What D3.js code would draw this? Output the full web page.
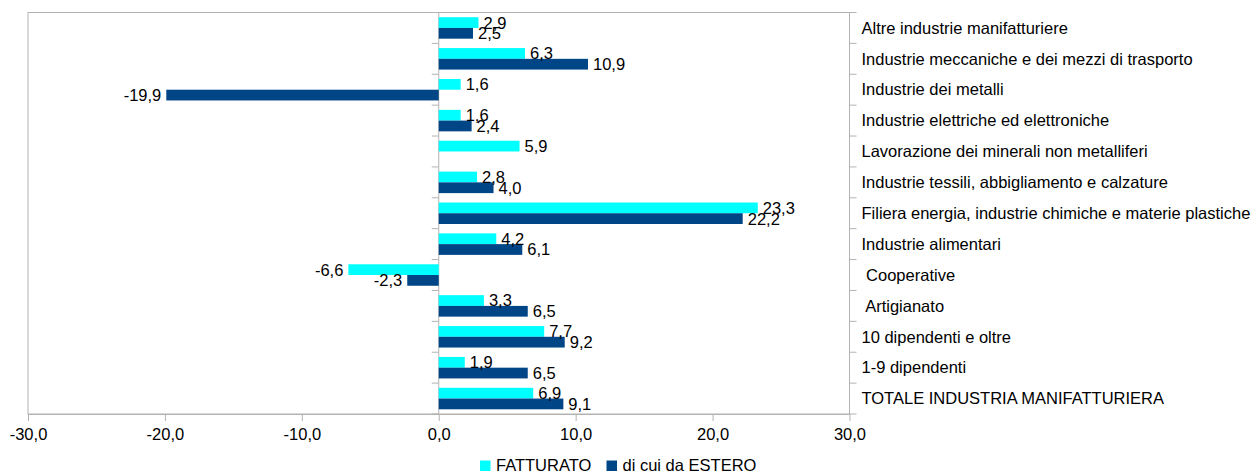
<!DOCTYPE html>
<html><head><meta charset="utf-8">
<script src="https://cdn.jsdelivr.net/npm/d3@7"></script>
<style>
html,body{margin:0;padding:0;background:#fff;}
text{font-family:"Liberation Sans",Arial,sans-serif;fill:#000;}
</style></head>
<body><svg id="c" width="1259" height="473"></svg>
<script>
const categories = [
  "Altre industrie manifatturiere",
  "Industrie meccaniche e dei mezzi di trasporto",
  "Industrie dei metalli",
  "Industrie elettriche ed elettroniche",
  "Lavorazione dei minerali non metalliferi",
  "Industrie tessili, abbigliamento e calzature",
  "Filiera energia, industrie chimiche e materie plastiche",
  "Industrie alimentari",
  " Cooperative",
  " Artigianato",
  "10 dipendenti e oltre",
  "1-9 dipendenti",
  "TOTALE INDUSTRIA MANIFATTURIERA"
];
const fatturato = [2.9, 6.3, 1.6, 1.6, 5.9, 2.8, 23.3, 4.2, -6.6, 3.3, 7.7, 1.9, 6.9];
const estero    = [2.5, 10.9, -19.9, 2.4, null, 4.0, 22.2, 6.1, -2.3, 6.5, 9.2, 6.5, 9.1];
const seriesNames = ["FATTURATO", "di cui da ESTERO"];
const seriesColors = ["#00ffff", "#004586"];
const xTicks = [-30, -20, -10, 0, 10, 20, 30];

const svg = d3.select("#c");
const L = 28, R = 849.5, T = 12.5, B = 414;
const grey = "#b3b3b3";
const FS = 16.5;
const fmt = d => d.toFixed(1).replace(".", ",");

const x = d3.scaleLinear().domain([-30, 30]).range([L, R]);
const y = d3.scaleBand().domain(categories).range([T, B]);
const y1 = d3.scaleBand().domain(seriesNames).range([0, y.bandwidth()]).paddingOuter(0.437);

// frame
svg.append("rect").attr("x", L).attr("y", T).attr("width", R - L).attr("height", B - T)
  .attr("fill", "none").attr("stroke", grey).attr("stroke-width", 1);

// x axis
const xa = svg.append("g").attr("transform", `translate(0,${B})`)
  .call(d3.axisBottom(x).tickValues(xTicks).tickFormat(fmt).tickSize(7).tickSizeOuter(0).tickPadding(7));
xa.select(".domain").attr("stroke", grey);
xa.selectAll(".tick line").attr("stroke", grey);
xa.selectAll(".tick text").attr("font-size", FS).attr("font-family", "Liberation Sans").attr("fill", "#000");

// boundaries for category ticks
const bounds = categories.map(c => y(c)).concat([B]);

// zero axis line with left ticks
svg.append("line").attr("x1", x(0)).attr("x2", x(0)).attr("y1", T).attr("y2", B).attr("stroke", grey);
svg.append("g").selectAll("line").data(bounds).join("line")
  .attr("x1", x(0) - 7).attr("x2", x(0)).attr("y1", d => d).attr("y2", d => d).attr("stroke", grey);

// right axis ticks
svg.append("g").selectAll("line").data(bounds).join("line")
  .attr("x1", R).attr("x2", R + 7).attr("y1", d => d).attr("y2", d => d).attr("stroke", grey);

// category labels
svg.append("g").selectAll("text").data(categories).join("text")
  .attr("x", 861.5).attr("y", d => y(d) + y.bandwidth() / 2).attr("dy", "0.35em")
  .attr("font-size", FS).style("white-space", "pre").text(d => d);

// bars
const data = [];
categories.forEach((c, i) => {
  data.push({cat: c, s: seriesNames[0], v: fatturato[i], col: seriesColors[0]});
  data.push({cat: c, s: seriesNames[1], v: estero[i], col: seriesColors[1]});
});
const valid = data.filter(d => d.v !== null);
svg.append("g").selectAll("rect").data(valid).join("rect")
  .attr("x", d => Math.min(x(0), x(d.v)))
  .attr("width", d => Math.abs(x(d.v) - x(0)))
  .attr("y", d => y(d.cat) + y1(d.s))
  .attr("height", y1.bandwidth())
  .attr("fill", d => d.col);

// value labels
svg.append("g").selectAll("text").data(valid).join("text")
  .attr("x", d => d.v >= 0 ? x(d.v) + 5 : x(d.v) - 5)
  .attr("text-anchor", d => d.v >= 0 ? "start" : "end")
  .attr("y", d => y(d.cat) + y1(d.s) + y1.bandwidth() / 2).attr("dy", "0.36em")
  .attr("font-size", FS).text(d => fmt(d.v));

// legend
const lg = svg.append("g");
const legX = [480, 606.5];
seriesNames.forEach((s, i) => {
  lg.append("rect").attr("x", legX[i]).attr("y", 460.5).attr("width", 10.5).attr("height", 10.5).attr("fill", seriesColors[i]);
  lg.append("text").attr("x", legX[i] + 16).attr("y", 471).attr("font-size", FS).text(s);
});
</script></body></html>
